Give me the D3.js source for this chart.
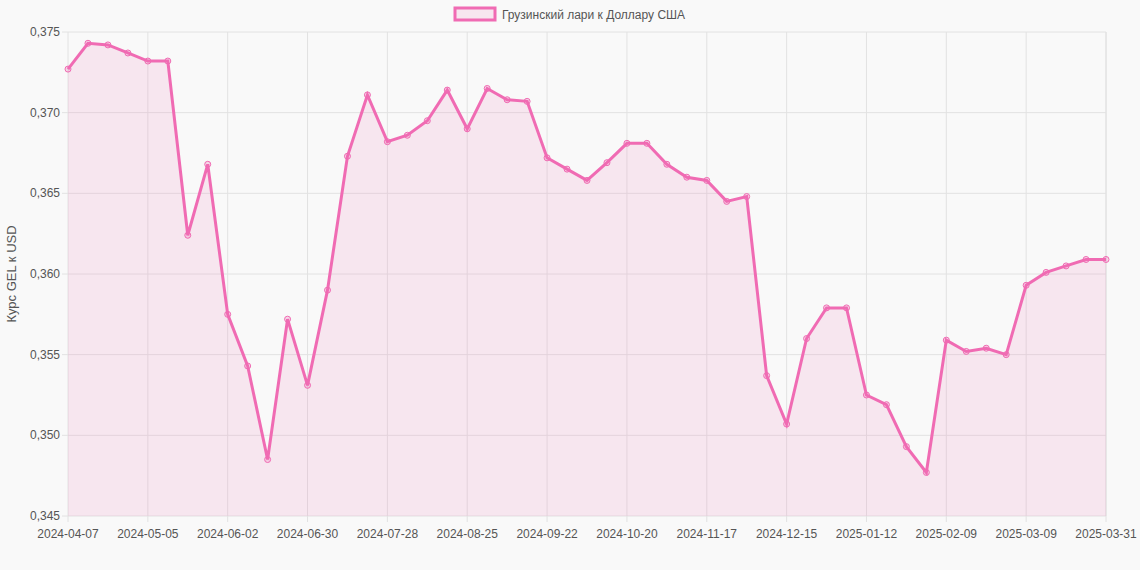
<!DOCTYPE html>
<html><head><meta charset="utf-8">
<script src="https://cdn.jsdelivr.net/npm/d3@7"></script>
<style>body{margin:0;background:#f9f9f9;font-family:"Liberation Sans",Arial,sans-serif}</style>
</head><body><svg id="c" width="1140" height="570"></svg>
<script>
const startDate = "2024-04-07";
const lastLabel = "2025-03-31";
const values = [0.3727,0.3743,0.3742,0.3737,0.3732,0.3732,0.3624,0.3668,0.3575,0.3543,0.3485,0.3572,0.3531,0.3590,0.3673,0.3711,0.3682,0.3686,0.3695,0.3714,0.3690,0.3715,0.3708,0.3707,0.3672,0.3665,0.3658,0.3669,0.3681,0.3681,0.3668,0.3660,0.3658,0.3645,0.3648,0.3537,0.3507,0.3560,0.3579,0.3579,0.3525,0.3519,0.3493,0.3477,0.3559,0.3552,0.3554,0.3550,0.3593,0.3601,0.3605,0.3609,0.3609];
const yTicks = [0.345,0.350,0.355,0.360,0.365,0.370,0.375];
const seriesName = "Грузинский лари к Доллару США";
const yTitle = "Курс GEL к USD";

const fmt = d3.timeFormat("%Y-%m-%d");
const s0 = d3.timeParse("%Y-%m-%d")(startDate);
const categories = values.map((v,i)=> i===values.length-1 ? lastLabel : fmt(d3.timeDay.offset(s0, 7*i)));
const tickCats = categories.filter((c,i)=> i%4===0 || i===categories.length-1);

const svg = d3.select("#c");
const L=68,R=1106,T=32,B=516;
const x = d3.scalePoint().domain(categories).range([L,R]);
const y = d3.scaleLinear().domain([0.345,0.375]).range([B,T]);
const color="#f06bb3";

const g=svg.append("g");
g.selectAll(".vg").data(tickCats).join("line").attr("x1",d=>x(d)).attr("x2",d=>x(d)).attr("y1",T).attr("y2",B+6).attr("stroke","#e2e2e2");
g.append("line").attr("x1",R).attr("x2",R).attr("y1",T).attr("y2",B).attr("stroke","#e2e2e2");
g.selectAll(".hg").data(yTicks).join("line").attr("x1",L-6).attr("x2",R).attr("y1",d=>y(d)).attr("y2",d=>y(d)).attr("stroke","#e2e2e2");

g.append("path").datum(values).attr("fill","rgba(240,107,179,0.13)")
 .attr("d",d3.area().x((d,i)=>x(categories[i])).y0(B).y1(d=>y(d)));
g.append("path").datum(values).attr("fill","none").attr("stroke",color).attr("stroke-width",3)
 .attr("d",d3.line().x((d,i)=>x(categories[i])).y(d=>y(d)));
g.selectAll("circle").data(values).join("circle").attr("cx",(d,i)=>x(categories[i])).attr("cy",d=>y(d)).attr("r",3)
 .attr("fill","rgba(240,107,179,0.25)").attr("stroke",color).attr("stroke-width",1);

g.selectAll(".xt").data(tickCats).join("text").attr("x",d=>x(d)).attr("y",B+22).attr("text-anchor","middle")
 .attr("font-size",12).attr("fill","#555").text(d=>d);
g.selectAll(".yt").data(yTicks).join("text").attr("x",L-8).attr("y",d=>y(d)+4).attr("text-anchor","end")
 .attr("font-size",12).attr("fill","#555").text(d=>d3.format(".3f")(d).replace(".",","));
svg.append("text").attr("transform",`translate(16,${(T+B)/2}) rotate(-90)`).attr("text-anchor","middle")
 .attr("font-size",13).attr("fill","#555").text(yTitle);

const lg=svg.append("g");
lg.append("rect").attr("x",455).attr("y",8).attr("width",40).attr("height",12).attr("fill","rgba(240,107,179,0.13)").attr("stroke",color).attr("stroke-width",3);
lg.append("text").attr("x",502).attr("y",19).attr("font-size",12).attr("fill","#555").text(seriesName);
</script></body></html>
